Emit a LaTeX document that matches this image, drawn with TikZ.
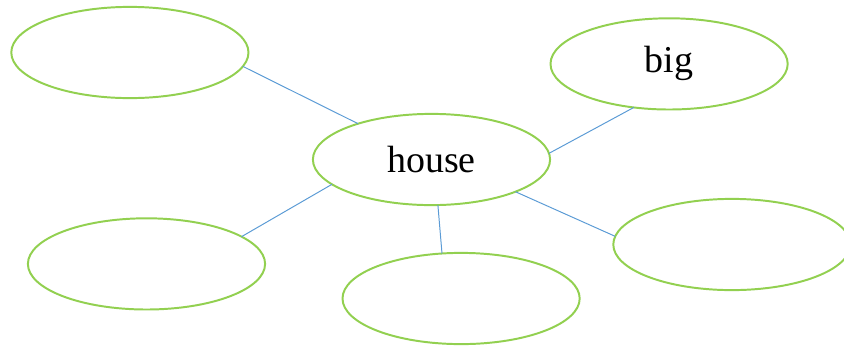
\documentclass[tikz,border=0pt]{standalone}
\usepackage{fontspec}
\setmainfont{Liberation Serif}
\usetikzlibrary{positioning,shapes.geometric}
\definecolor{leafgreen}{RGB}{146,208,80}
\definecolor{spokeblue}{RGB}{91,155,213}
\begin{document}
\begin{tikzpicture}[node distance=4cm,on grid]
    \tikzset{bubble/.style={draw=leafgreen,line width=1.4pt,ellipse,inner sep=0pt,outer sep=0pt,
        minimum width=5.93cm,minimum height=2.28cm,font=\fontsize{27}{30}\selectfont},
      spoke/.style={draw=spokeblue,line width=0.7pt}}
    \useasboundingbox (-10.7875,-4.6625) rectangle (10.3125,3.9875);
    \node[bubble] (house) {house};
    \node[bubble] (tl) [above left = 2.675cm and 7.54cm of house] {};
    \node[bubble] (big) [above right = 2.39cm and 5.94cm of house] {big};
    \node[bubble] (bl) [below left = 2.61cm and 7.125cm of house] {};
    \node[bubble] (bm) [below right = 3.475cm and 0.74cm of house] {};
    \node[bubble] (rt) [below right = 2.125cm and 7.51cm of house] {};
    \path[spoke]
    (tl.-7) edge (house.154)
    (house.3) edge (big.231)
    (bl.16) edge (house.194)
    (house.-82) edge (bm.113)
    (house.-21) edge (rt.176)
    ;
  \end{tikzpicture}
\end{document}
